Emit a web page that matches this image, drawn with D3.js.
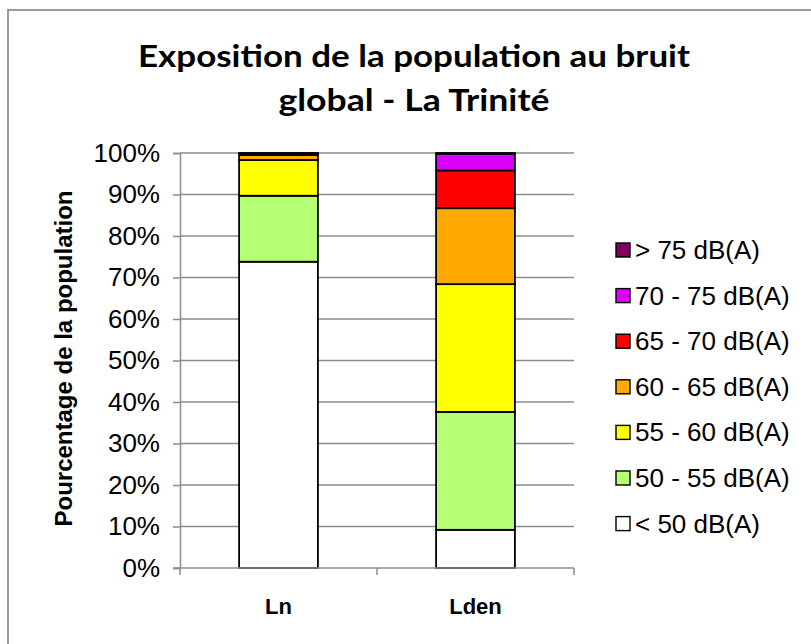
<!DOCTYPE html>
<html>
<head>
<meta charset="utf-8">
<script src="https://cdn.jsdelivr.net/npm/d3@7"></script>
<style>
  body { margin: 0; background: #fff; }
  svg { display: block; }
</style>
</head>
<body>
<svg id="chart"></svg>
<script>
// categories (x) and noise classes (stacked series, bottom to top)
const categories = ["Ln", "Lden"];
const classes = ["< 50 dB(A)", "50 - 55 dB(A)", "55 - 60 dB(A)", "60 - 65 dB(A)", "65 - 70 dB(A)", "70 - 75 dB(A)", "> 75 dB(A)"];
const colors = ["#ffffff", "#b5ff75", "#ffff00", "#ffaa00", "#ff0000", "#d900ff", "#800060"];
// percentages per class, one array per category
const lnValues = [73.8, 15.9, 8.6, 1.2, 0.4, 0.1, 0.0];
const ldenValues = [9.2, 28.4, 30.8, 18.3, 9.1, 4.0, 0.2];
const yTicks = [0, 10, 20, 30, 40, 50, 60, 70, 80, 90, 100];
const titleLines = ["Exposition de la population au bruit", "global - La Trinité"];

const width = 811;
const height = 644;
const marginTop = 153;
const marginBottom = 76; // 0% at y=568
const marginLeft = 180;
const plotRight = 574;
const sans = "'Liberation Sans', Arial, sans-serif";

const svg = d3.select("#chart")
    .attr("width", width)
    .attr("height", height);

// outer frame
svg.append("rect")
    .attr("x", 8).attr("y", 10)
    .attr("width", width + 20).attr("height", height + 20)
    .attr("fill", "#fff")
    .attr("stroke", "#9a9a9a")
    .attr("stroke-width", 2);

const rows = categories.map((c, i) => {
  const vals = i === 0 ? lnValues : ldenValues;
  const row = {cat: c};
  classes.forEach((k, j) => row[k] = vals[j]);
  return row;
});

const x = d3.scaleBand()
    .domain(categories)
    .range([marginLeft, plotRight])
    .paddingInner(0.6)
    .paddingOuter(0.3);

const y = d3.scaleLinear()
    .domain([0, 100])
    .range([height - marginBottom, marginTop]);

// gridlines
svg.append("g")
    .selectAll("line")
    .data(yTicks.slice(1))
    .join("line")
      .attr("x1", marginLeft).attr("x2", plotRight)
      .attr("y1", d => y(d)).attr("y2", d => y(d))
      .attr("stroke", "#8c8c8c")
      .attr("stroke-width", 1.5);

// stacked bars
const stack = d3.stack().keys(classes)(rows);
svg.append("g")
  .selectAll("g")
  .data(stack)
  .join("g")
    .attr("fill", (d, i) => colors[i])
  .selectAll("rect")
  .data(d => d.filter(p => p[1] - p[0] > 0))
  .join("rect")
    .attr("x", d => x(d.data.cat))
    .attr("width", x.bandwidth())
    .attr("y", d => y(d[1]))
    .attr("height", d => y(d[0]) - y(d[1]))
    .attr("stroke", "#000")
    .attr("stroke-width", 1.8);

// y axis
const yAxis = d3.axisLeft(y)
    .tickValues(yTicks)
    .tickSize(7)
    .tickPadding(13)
    .tickFormat(d => d + "%");
const gy = svg.append("g")
    .attr("transform", `translate(${marginLeft},0)`)
    .call(yAxis);
gy.select(".domain").attr("stroke", "#8c8c8c").attr("stroke-width", 1.5);
gy.selectAll(".tick line").attr("stroke", "#8c8c8c").attr("stroke-width", 1.5);
gy.selectAll(".tick text")
    .attr("font-family", sans)
    .attr("font-size", 26)
    .attr("fill", "#000");

// x axis with boundary ticks
const gx = svg.append("g");
gx.append("line")
    .attr("x1", marginLeft - 7).attr("x2", plotRight)
    .attr("y1", y(0)).attr("y2", y(0))
    .attr("stroke", "#8c8c8c").attr("stroke-width", 1.5);
const bounds = [marginLeft, ...categories.map(c => x(c) + x.bandwidth() + x.step() * x.paddingInner() / 2)];
bounds[bounds.length - 1] = plotRight;
gx.selectAll(".bt")
  .data(bounds)
  .join("line")
    .attr("x1", d => d).attr("x2", d => d)
    .attr("y1", y(0)).attr("y2", y(0) + 7)
    .attr("stroke", "#8c8c8c").attr("stroke-width", 1.5);
gx.selectAll("text")
  .data(categories)
  .join("text")
    .attr("x", d => x(d) + x.bandwidth() / 2)
    .attr("y", 614)
    .attr("text-anchor", "middle")
    .attr("font-family", sans)
    .attr("font-weight", "bold")
    .attr("font-size", 22)
    .text(d => d);

// y axis title
svg.append("text")
    .attr("transform", `translate(72,${(y(0) + y(100)) / 2 - 2}) rotate(-90)`)
    .attr("text-anchor", "middle")
    .attr("font-family", sans)
    .attr("font-weight", "bold")
    .attr("font-size", 24)
    .text("Pourcentage de la population");

// title (two lines, stretched to the reference width)
const titleWidths = [552, 271];
svg.append("g")
  .selectAll("text")
  .data(titleLines)
  .join("text")
    .attr("x", 414)
    .attr("y", (d, i) => 67 + i * 44)
    .attr("text-anchor", "middle")
    .attr("font-family", "Lato, Carlito, Calibri, sans-serif")
    .attr("font-weight", "bold")
    .attr("font-size", 31)
    .attr("textLength", (d, i) => titleWidths[i])
    .attr("lengthAdjust", "spacingAndGlyphs")
    .text(d => d);

// legend (top = last class)
const legend = svg.append("g")
  .selectAll("g")
  .data(classes.map((c, i) => ({c, i})).reverse())
  .join("g")
    .attr("transform", (d, k) => `translate(616,${250 + k * 45.6})`);
legend.append("rect")
    .attr("x", 0).attr("y", -7)
    .attr("width", 14).attr("height", 14)
    .attr("fill", d => colors[d.i])
    .attr("stroke", "#000")
    .attr("stroke-width", 1.4);
legend.append("text")
    .attr("x", 19).attr("y", 9)
    .attr("font-family", sans)
    .attr("font-size", 26)
    .text(d => d.c);
</script>
</body>
</html>
